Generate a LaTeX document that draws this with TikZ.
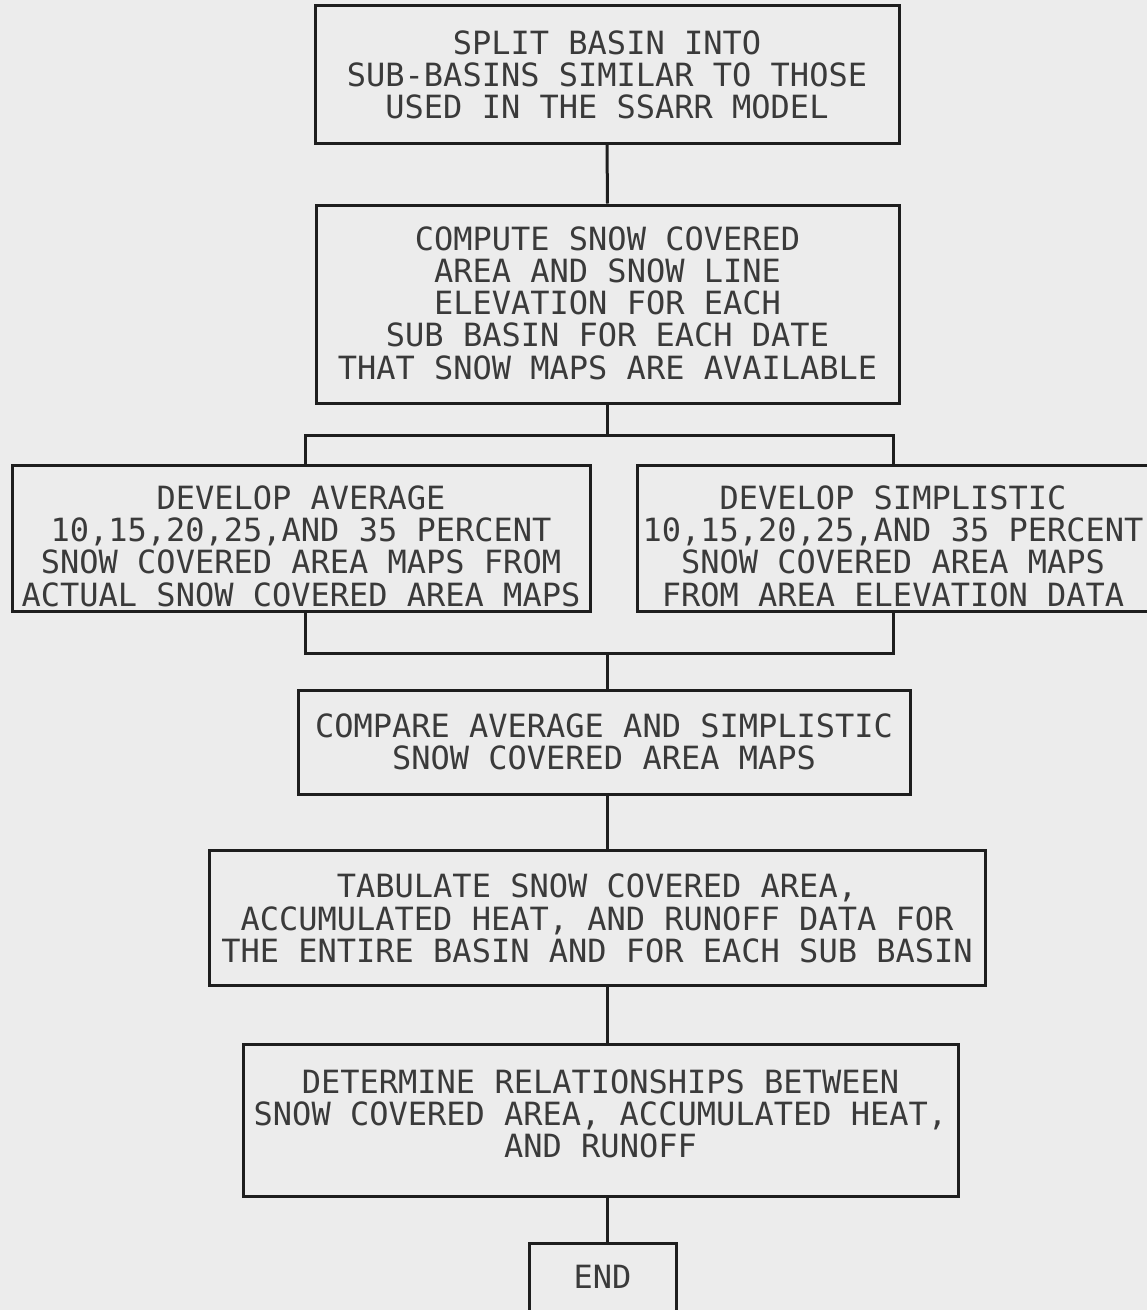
\documentclass[tikz,border=0pt]{standalone}
\usepackage{fontspec}
\newfontfamily\plotfont{DejaVu Sans Mono}
\definecolor{bgc}{HTML}{ECECEC}
\definecolor{textc}{HTML}{3A3A3A}
\definecolor{linec}{HTML}{1E1E1E}
\begin{document}
\begin{tikzpicture}[x=1pt,y=-1pt,
  box/.style={draw=linec, line width=3pt, inner sep=0pt},
  txt/.style={font=\plotfont\fontsize{32}{32.3}\selectfont, text=textc, align=center, inner sep=0pt},
  conn/.style={draw=linec, line width=3pt}]
\fill[bgc] (0,0) rectangle (1147,1310);
\useasboundingbox (0,0) rectangle (1147,1310);

\node[box, minimum width=584pt, minimum height=138pt,
  label={[txt,yshift=-1pt]center:{SPLIT BASIN INTO\\SUB-BASINS SIMILAR TO THOSE\\USED IN THE SSARR MODEL}}] (b1) at (607,74) {};

\node[box, minimum width=583pt, minimum height=198pt,
  label={[txt,yshift=1pt]center:{COMPUTE SNOW COVERED\\AREA AND SNOW LINE\\ELEVATION FOR EACH\\SUB BASIN FOR EACH DATE\\THAT SNOW MAPS ARE AVAILABLE}}] (b2) at (607.5,304) {};

\node[box, minimum width=578pt, minimum height=146pt,
  label={[txt,yshift=-8pt]center:{DEVELOP AVERAGE\\10,15,20,25,AND 35 PERCENT\\SNOW COVERED AREA MAPS FROM\\ACTUAL SNOW COVERED AREA MAPS}}] (b3) at (301,538) {};

\node[box, minimum width=518pt, minimum height=146pt,
  label={[txt,yshift=-8pt,xshift=-3pt]center:{DEVELOP SIMPLISTIC\\10,15,20,25,AND 35 PERCENT\\SNOW COVERED AREA MAPS\\FROM AREA ELEVATION DATA}}] (b4) at (896,538) {};

\node[box, minimum width=612pt, minimum height=104pt,
  label={[txt]center:{COMPARE AVERAGE AND SIMPLISTIC\\SNOW COVERED AREA MAPS}}] (b5) at (604,742) {};

\node[box, minimum width=776pt, minimum height=135pt,
  label={[txt,yshift=-1pt]center:{TABULATE SNOW COVERED AREA,\\ACCUMULATED HEAT, AND RUNOFF DATA FOR\\THE ENTIRE BASIN AND FOR EACH SUB BASIN}}] (b6) at (597,917.5) {};

\node[box, minimum width=715pt, minimum height=152pt,
  label={[txt,yshift=6pt]center:{DETERMINE RELATIONSHIPS BETWEEN\\SNOW COVERED AREA, ACCUMULATED HEAT,\\AND RUNOFF}}] (b7) at (600.5,1120) {};

\node[box, minimum width=147pt, minimum height=87pt,
  label={[txt,yshift=9.5pt]center:{END}}] (b8) at (602.5,1286.5) {};

\coordinate (sl) at (305,435);
\coordinate (sr) at (893,435);
\coordinate (ml) at (305,653);
\coordinate (mr) at (893,653);

\draw[conn] (b1.south) -- (b2.north);
\draw[conn] (b2.south) -- (b2.south |- sl);
\draw[conn] (b3.north -| sl) -- (sl) -- (sr) -- (b4.north -| sr);
\draw[conn] (b3.south -| ml) -- (ml) -- (mr) -- (b4.south -| mr);
\draw[conn] (ml -| b1) -- (b5.north -| b1);
\draw[conn] (b5.south -| b1) -- (b6.north -| b1);
\draw[conn] (b6.south -| b1) -- (b7.north -| b1);
\draw[conn] (b7.south -| b1) -- (b8.north -| b1);
\end{tikzpicture}
\end{document}
